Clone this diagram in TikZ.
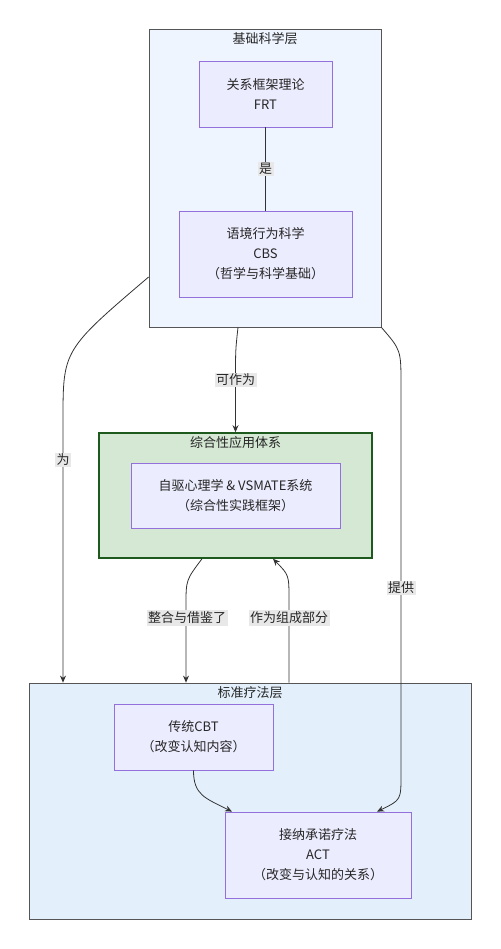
\documentclass[tikz,border=0pt]{standalone}
\usepackage{fontspec}
\setmainfont{Noto Sans CJK SC}
\usetikzlibrary{arrows.meta}
\definecolor{boxfill}{HTML}{ECECFF}
\definecolor{boxline}{HTML}{9370DB}
\definecolor{layerline}{HTML}{555555}
\definecolor{scifill}{HTML}{EEF5FF}
\definecolor{stdfill}{HTML}{E3F0FC}
\definecolor{appfill}{HTML}{D5E8D4}
\definecolor{appline}{HTML}{1E5A1E}
\definecolor{edgeline}{HTML}{333333}
\definecolor{labelfill}{HTML}{E8E8E8}
\begin{document}
\begin{tikzpicture}[x=1pt, y=-1pt, >={Stealth[length=7pt,width=6pt]}, line width=0.8pt,
every node/.style={font=\fontsize{13}{20}\selectfont, text=black!85, align=center},
layer/.style={draw=layerline, inner sep=0pt},
main box/.style={draw=boxline, fill=boxfill, inner sep=0pt},
edge label/.style={fill=labelfill, inner sep=1.5pt},
link/.style={draw=edgeline}]
\useasboundingbox (0,0) rectangle (500,949);
% layers
\node [layer, fill=scifill, minimum width=232, minimum height=298](sci) at (265,178) {};
\node (scititle) at (265,39) {基础科学层};
\node [layer, fill=appfill, draw=appline, line width=1.6pt, minimum width=273, minimum height=125](app) at (235.5,495.5) {};
\node (apptitle) at (235.5,443) {综合性应用体系};
\node [layer, fill=stdfill, minimum width=442, minimum height=236](std) at (250,801) {};
\node (stdtitle) at (250,693) {标准疗法层};
% boxes
\node [main box, minimum width=133, minimum height=66](frt) at (265.5,94) {关系框架理论\\FRT};
\node [main box, minimum width=173, minimum height=86](cbs) at (265.5,254) {语境行为科学\\CBS\\（哲学与科学基础）};
\node [main box, minimum width=209, minimum height=65](vsm) at (235.5,495.5) {自驱心理学 \& VSMATE系统\\（综合性实践框架）};
\node [main box, minimum width=159, minimum height=66](cbt) at (193.5,737) {传统CBT\\（改变认知内容）};
\node [main box, minimum width=186, minimum height=86](act) at (318,855) {接纳承诺疗法\\ACT\\（改变与认知的关系）};
% links
\draw [link] (frt) -- node[edge label]{是} (cbs);
\draw [link,->] (238,0 |- sci.south) .. controls (235.5,350) .. (235.5,380) node[edge label]{可作为} -- (app.north);
\draw [link,->] (sci.west |- 0,277) .. controls (63,350) and (63,350) .. (63,420) -- (63,0 |- std.north);
\node [edge label](lwei) at (63,460) {为};
\draw [link,->] (sci.south east) .. controls (401,350) .. (401,385) -- (401,775) .. controls (401,800) .. (377,0 |- act.north);
\node [edge label](ltigong) at (401,588) {提供};
\draw [link,->] (202,0 |- app.south) .. controls (186,580) .. (186,605) -- (186,0 |- std.north);
\node [edge label](lzhenghe) at (187,618) {整合与借鉴了};
\draw [link,->] (289,0 |- std.north) -- (289,600) .. controls (289,575) .. (273,0 |- app.south);
\node [edge label](lzucheng) at (289,618) {作为组成部分};
\draw [link,->] (cbt.south) .. controls (193.5,795) and (205,798) .. (232,0 |- act.north);
\end{tikzpicture}
\end{document}
